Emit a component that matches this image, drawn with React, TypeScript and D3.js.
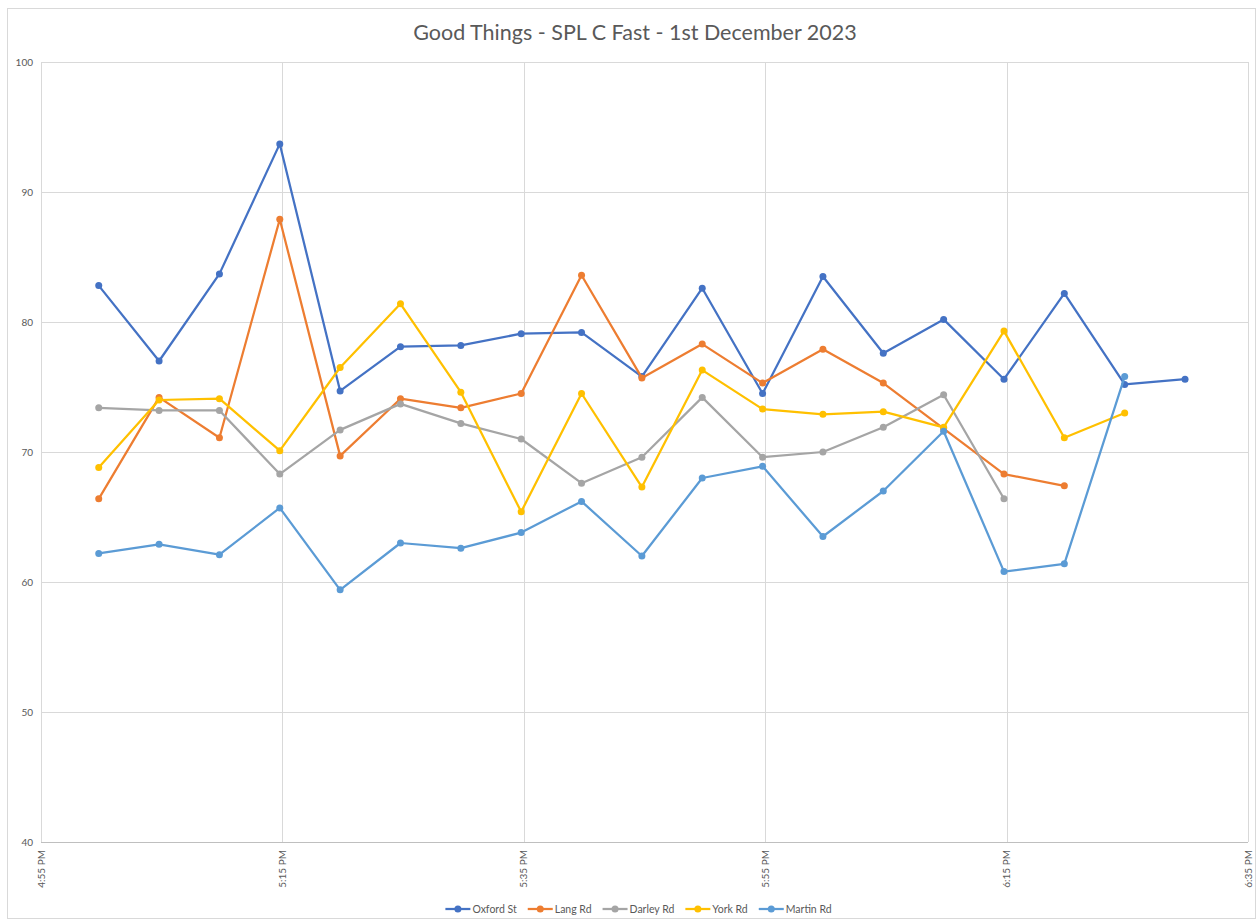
import * as d3 from "d3";
import { useEffect, useRef } from "react";

const times = [
  "16:59:47", "17:04:47", "17:09:47", "17:14:47", "17:19:47", "17:24:47", "17:29:47",
  "17:34:47", "17:39:47", "17:44:47", "17:49:47", "17:54:47", "17:59:47", "18:04:47",
  "18:09:47", "18:14:47", "18:19:47", "18:24:47", "18:29:47",
];

const oxfordSt = [82.8, 77.0, 83.7, 93.7, 74.7, 78.1, 78.2, 79.1, 79.2, 75.8, 82.6, 74.5, 83.5, 77.6, 80.2, 75.6, 82.2, 75.2, 75.6];
const langRd = [66.4, 74.2, 71.1, 87.9, 69.7, 74.1, 73.4, 74.5, 83.6, 75.7, 78.3, 75.3, 77.9, 75.3, 71.8, 68.3, 67.4, null, null];
const darleyRd = [73.4, 73.2, 73.2, 68.3, 71.7, 73.7, 72.2, 71.0, 67.6, 69.6, 74.2, 69.6, 70.0, 71.9, 74.4, 66.4, null, null, null];
const yorkRd = [68.8, 74.0, 74.1, 70.1, 76.5, 81.4, 74.6, 65.4, 74.5, 67.3, 76.3, 73.3, 72.9, 73.1, 71.9, 79.3, 71.1, 73.0, null];
const martinRd = [62.2, 62.9, 62.1, 65.7, 59.4, 63.0, 62.6, 63.8, 66.2, 62.0, 68.0, 68.9, 63.5, 67.0, 71.6, 60.8, 61.4, 75.8, null];

const seriesNames = ["Oxford St", "Lang Rd", "Darley Rd", "York Rd", "Martin Rd"];
const seriesValues = [oxfordSt, langRd, darleyRd, yorkRd, martinRd];
const colors = ["#4472C4", "#ED7D31", "#A5A5A5", "#FFC000", "#5B9BD5"];

const yTicks = [40, 50, 60, 70, 80, 90, 100];
const xTickLabels = ["16:55", "17:15", "17:35", "17:55", "18:15", "18:35"];

const W = 1260;
const H = 920;
const margin = { top: 62, right: 12, bottom: 78, left: 41 };
const font = "Lato, 'Open Sans', sans-serif";

const parseTime = (s: string) => {
  const [h, m, sec] = s.split(":").map(Number);
  return new Date(2023, 11, 1, h, m, sec || 0);
};

export default function App() {
  const legendRef = useRef<SVGGElement>(null);

  const xTicks = xTickLabels.map(parseTime);
  const x = d3
    .scaleTime()
    .domain(d3.extent(xTicks) as [Date, Date])
    .range([margin.left, W - margin.right]);
  const y = d3
    .scaleLinear()
    .domain([40, 100])
    .range([H - margin.bottom, margin.top]);

  const fmt = d3.timeFormat("%-I:%M %p");
  const dates = times.map(parseTime);

  const line = d3
    .line<[Date, number | null]>()
    .defined((d) => d[1] !== null)
    .x((d) => x(d[0]))
    .y((d) => y(d[1] as number));

  useEffect(() => {
    // legend centred under the chart, using measured text widths
    const g = d3.select(legendRef.current);
    g.selectAll("*").remove();
    let cx = 0;
    seriesNames.forEach((name, i) => {
      const item = g.append("g").attr("transform", `translate(${cx},0)`);
      item.append("line")
        .attr("x1", 0).attr("x2", 25).attr("y1", 0).attr("y2", 0)
        .attr("stroke", colors[i]).attr("stroke-width", 2.25);
      item.append("circle").attr("cx", 12.5).attr("cy", 0).attr("r", 3.5).attr("fill", colors[i]);
      const t = item.append("text")
        .attr("x", 27).attr("y", 0).attr("dy", "0.35em")
        .attr("font-family", font).attr("font-size", 10.5).attr("fill", "#595959")
        .text(name);
      const tw = (t.node() as SVGTextElement).getComputedTextLength();
      cx += 27 + tw + 11;
    });
    const total = cx - 11;
    g.attr("transform", `translate(${(W + 17) / 2 - total / 2},${909})`);
  }, []);

  return (
    <svg
      width={W}
      height={H}
      style={{ position: "absolute", left: 0, top: 0, background: "#fff" }}
    >
      <rect x={7.5} y={8.5} width={1248} height={910} fill="#fff" stroke="#d9d9d9" />
      <text
        x={635}
        y={40}
        textAnchor="middle"
        fontFamily={font}
        fontSize={21.5}
        fill="#595959"
      >
        Good Things - SPL C Fast - 1st December 2023
      </text>

      {yTicks.map((t) => (
        <g key={t}>
          <line
            x1={margin.left}
            x2={W - margin.right}
            y1={Math.round(y(t)) + 0.5}
            y2={Math.round(y(t)) + 0.5}
            stroke={t === 40 ? "#bfbfbf" : "#d9d9d9"}
          />
          <text
            x={33}
            y={y(t)}
            dy="0.35em"
            textAnchor="end"
            fontFamily={font}
            fontSize={10}
            fill="#595959"
          >
            {t}
          </text>
        </g>
      ))}

      {xTicks.map((t, i) => (
        <g key={i}>
          <line
            x1={Math.round(x(t)) + 0.5}
            x2={Math.round(x(t)) + 0.5}
            y1={margin.top}
            y2={H - margin.bottom}
            stroke="#d9d9d9"
          />
          <text
            transform={`translate(${x(t)},${H - margin.bottom + 8}) rotate(-90)`}
            dy="0.35em"
            textAnchor="end"
            fontFamily={font}
            fontSize={10}
            fill="#595959"
          >
            {fmt(t)}
          </text>
        </g>
      ))}

      {seriesValues.map((vals, si) => {
        const pts = dates.map((d, i) => [d, vals[i]] as [Date, number | null]);
        return (
          <g key={seriesNames[si]}>
            <path
              d={line(pts) || ""}
              fill="none"
              stroke={colors[si]}
              strokeWidth={2.25}
              strokeLinejoin="round"
            />
            {pts
              .filter((p) => p[1] !== null)
              .map((p, i) => (
                <circle key={i} cx={x(p[0])} cy={y(p[1] as number)} r={3.5} fill={colors[si]} />
              ))}
          </g>
        );
      })}

      <g ref={legendRef} />
    </svg>
  );
}
